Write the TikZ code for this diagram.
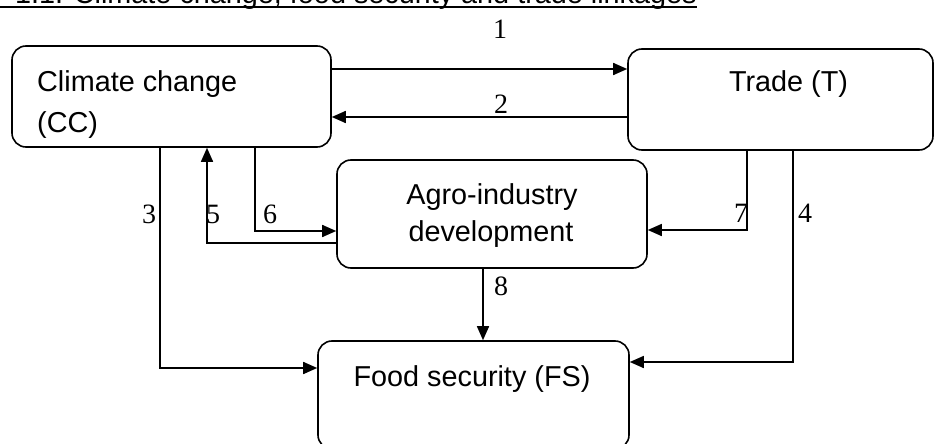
\documentclass[tikz,border=0pt]{standalone}
\usepackage{fontspec}
\setmainfont{Liberation Serif}
\newfontfamily\sansf{Liberation Sans}
\usetikzlibrary{arrows.meta}

\tikzset{
  box/.style={draw, line width=1.6pt, rounded corners=14pt, inner sep=0pt},
  boxtext/.style={font=\sansf\fontsize{28.8}{39}\selectfont, inner sep=0pt},
  num/.style={font=\fontsize{28}{30}\selectfont, inner sep=0pt},
  link/.style={line width=1.6pt, -{Triangle[length=14pt,width=12pt]}},
  plain/.style={line width=1.6pt}
}

\begin{document}
\begin{tikzpicture}[x=1pt, y=-1pt]
  \useasboundingbox (0,0) rectangle (935,444);
  \clip (0,0) rectangle (935,444);

  % heading, underlined
  \node[boxtext, anchor=base west] (title) at (15,4)
    {1.1. Climate change, food security and trade linkages};
  \draw[line width=2pt] (0,7) -- (title.base east |- 0,7);

  % the four boxes
  \node[box, minimum width=319pt, minimum height=101pt] (cc) at (171.5,96.5) {};
  \node[box, minimum width=305pt, minimum height=101pt] (tr) at (780.5,99.5) {};
  \node[box, minimum width=310pt, minimum height=108pt] (ag) at (492,214) {};
  \node[box, minimum width=311pt, minimum height=108pt] (fs) at (473.5,395) {};

  % box texts
  \node[boxtext, anchor=base west] (cct1) at (37,92) {Climate change};
  \node[boxtext, anchor=base west] (cct2) at (37,132) {(CC)};
  \node[boxtext, anchor=base] (trt) at (788.5,92) {Trade (T)};
  \node[boxtext, anchor=base] (agt1) at (492,204) {Agro-industry};
  \node[boxtext, anchor=base] (agt2) at (491,241) {development};
  \node[boxtext, anchor=base] (fst) at (472,386) {Food security (FS)};

  % connectors
  \draw[link] (cc.east |- 0,69) -- (tr.west |- 0,69);
  \draw[link] (tr.west |- 0,117) -- (cc.east |- 0,117);
  \draw[link] (cc.south -| 160,0) |- (fs.west |- 0,368);
  \draw[link] (tr.south -| 793,0) |- (fs.east |- 0,362);
  \draw[link] (ag.west |- 0,243) -| (cc.south -| 207,0);
  \draw[link] (cc.south -| 255,0) |- (ag.west |- 0,231);
  \draw[link] (tr.south -| 747,0) |- (ag.east |- 0,230);
  \draw[link] (ag.south -| 483,0) -- (fs.north -| 483,0);

  % link numbers
  \node[num] (n1) at (500,29) {1};
  \node[num] (n2) at (501,104) {2};
  \node[num] (n3) at (149,214) {3};
  \node[num] (n5) at (213,214) {5};
  \node[num] (n6) at (270,214) {6};
  \node[num] (n7) at (741,213) {7};
  \node[num] (n4) at (805,213) {4};
  \node[num] (n8) at (501,286) {8};
\end{tikzpicture}
\end{document}
